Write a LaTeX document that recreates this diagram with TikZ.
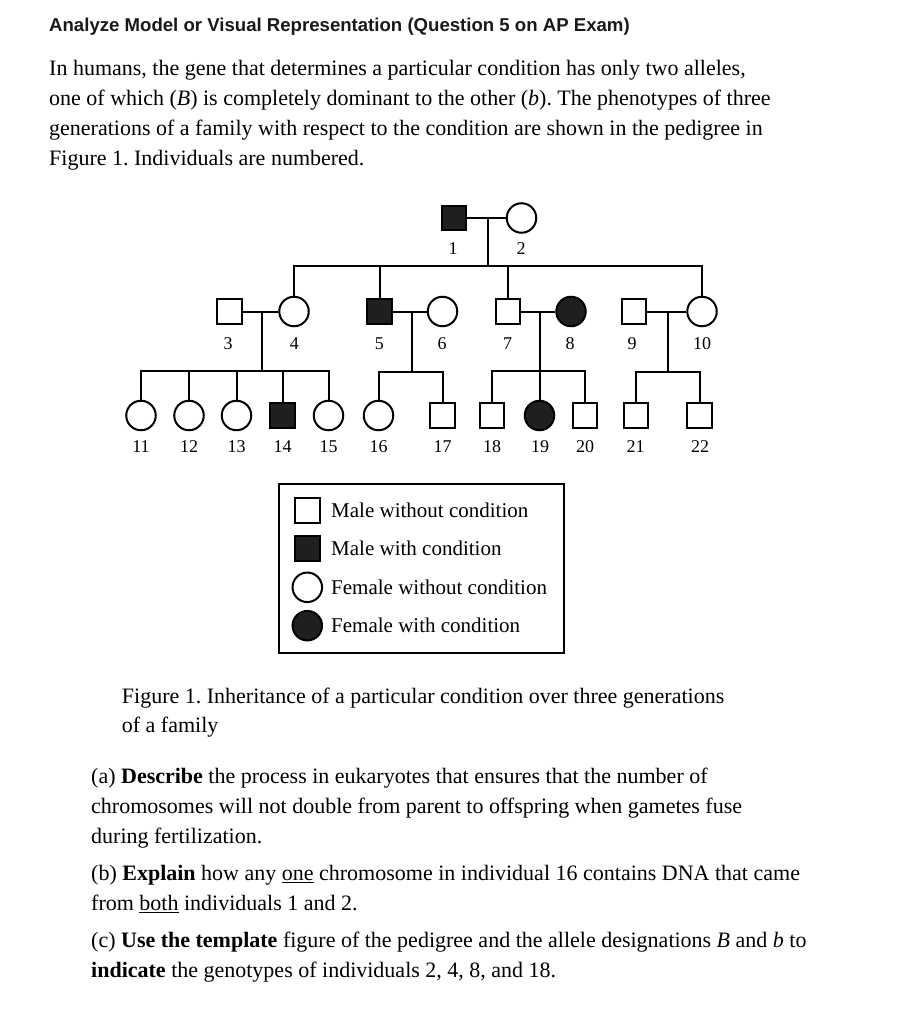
\documentclass[tikz,border=0pt]{standalone}
\usepackage{fontspec}
\setmainfont{Liberation Serif}
\setsansfont{Liberation Sans}
\usetikzlibrary{positioning}
\frenchspacing
\tikzset{
	male/.style = {shape=rectangle, draw, line width=2pt, minimum size=24.5pt, inner sep=0pt, fill=white},
	malec/.style = {male, fill=black!88},
	female/.style = {shape=circle, draw, line width=2pt, minimum size=29.5pt, inner sep=0pt, fill=white},
	femalec/.style = {female, fill=black!88},
	num/.style = {inner sep=0pt, font=\fontsize{18}{20}\selectfont},
	line/.style = {line width=2pt},
	keytext/.style = {anchor=west, inner sep=0pt, font=\fontsize{21}{24}\selectfont},
	para/.style = {anchor=north west, inner sep=0pt, align=left, font=\fontsize{22}{30}\selectfont},
}

\begin{document}
\begin{tikzpicture}[x=1pt, y=-1pt]
		\fill[white] (0,0) rectangle (916,1024);
		\useasboundingbox (0,0) rectangle (916,1024);

		\node[anchor=base west, inner sep=0pt, text=black!90, font=\sffamily\bfseries\fontsize{18.6}{22}\selectfont] (title) at (49,31.7) {Analyze Model or Visual Representation (Question 5 on AP Exam)};
		\node[para] (intro) at (49,60) {In humans, the gene that determines a particular condition has only two alleles,\\one of which (\textit{B}) is completely dominant to the other (\textit{b}). The phenotypes of three\\generations of a family with respect to the condition are shown in the pedigree in\\Figure 1. Individuals are numbered.};

		% generation I
		\node[malec] (p1) at (454,218) {};
		\node[female] (p2) at (521.5,218) {};
		\node[num] (n1) at (453,249) {1};
		\node[num] (n2) at (521,249) {2};

		% generation II
		\node[male] (p3) at (229.5,311.5) {};
		\node[female] (p4) at (294,311.5) {};
		\node[malec] (p5) at (379.5,311.5) {};
		\node[female] (p6) at (442.5,311.5) {};
		\node[male] (p7) at (508,311.5) {};
		\node[femalec] (p8) at (571,311.5) {};
		\node[male] (p9) at (634,311.5) {};
		\node[female] (p10) at (702,311.5) {};
		\node[num] (n3) at (228,343.3) {3};
		\node[num] (n4) at (294.3,343.3) {4};
		\node[num] (n5) at (379.3,343.3) {5};
		\node[num] (n6) at (442,343.3) {6};
		\node[num] (n7) at (507.7,343.3) {7};
		\node[num] (n8) at (570,343.3) {8};
		\node[num] (n9) at (632,343.3) {9};
		\node[num] (n10) at (702,343.3) {10};

		% generation III
		\node[female] (p11) at (141,415.5) {};
		\node[female] (p12) at (189,415.5) {};
		\node[female] (p13) at (236.5,415.5) {};
		\node[malec] (p14) at (282.5,415.5) {};
		\node[female] (p15) at (328.5,415.5) {};
		\node[female] (p16) at (378.5,415.5) {};
		\node[male] (p17) at (442.5,415.5) {};
		\node[male] (p18) at (492,415.5) {};
		\node[femalec] (p19) at (539.5,415.5) {};
		\node[male] (p20) at (585,415.5) {};
		\node[male] (p21) at (636,415.5) {};
		\node[male] (p22) at (699.5,415.5) {};
		\node[num] (n11) at (141,446.7) {11};
		\node[num] (n12) at (189,446.7) {12};
		\node[num] (n13) at (236.5,446.7) {13};
		\node[num] (n14) at (282.5,446.7) {14};
		\node[num] (n15) at (328.5,446.7) {15};
		\node[num] (n16) at (378.5,446.7) {16};
		\node[num] (n17) at (442.5,446.7) {17};
		\node[num] (n18) at (492,446.7) {18};
		\node[num] (n19) at (540,446.7) {19};
		\node[num] (n20) at (585,446.7) {20};
		\node[num] (n21) at (635.5,446.7) {21};
		\node[num] (n22) at (700,446.7) {22};

		% matings and sibships
		\coordinate (m12) at (488,218);
		\coordinate (s12) at (488,266);
		\coordinate (m34) at (261.5,311.5);
		\coordinate (s34) at (261.5,371);
		\coordinate (m56) at (411.5,311.5);
		\coordinate (s56) at (411.5,371.5);
		\coordinate (m78) at (539.5,311.5);
		\coordinate (s78) at (539.5,371);
		\coordinate (m910) at (668,311.5);
		\coordinate (s910) at (668,371.5);

		\draw[line] (p1) -- (p2);
		\draw[line] (m12) -- (s12);
		\draw[line] (p4.north) |- (s12) -| (p10.north);
		\draw[line] (p5.north) |- (s12);
		\draw[line] (p7.north) |- (s12);

		\draw[line] (p3) -- (p4);
		\draw[line] (m34) -- (s34);
		\draw[line] (p11.north) |- (s34) -| (p15.north);
		\draw[line] (p12.north) |- (s34);
		\draw[line] (p13.north) |- (s34);
		\draw[line] (p14.north) |- (s34);

		\draw[line] (p5) -- (p6);
		\draw[line] (m56) -- (s56);
		\draw[line] (p16.north) |- (s56) -| (p17.north);

		\draw[line] (p7) -- (p8);
		\draw[line] (m78) -- (s78);
		\draw[line] (p18.north) |- (s78) -| (p20.north);
		\draw[line] (p19.north) -- (s78);

		\draw[line] (p9) -- (p10);
		\draw[line] (m910) -- (s910);
		\draw[line] (p21.north) |- (s910) -| (p22.north);

		% key
		\node[draw, line width=2pt, minimum width=284.7pt, minimum height=169pt, inner sep=0pt] (key) at (421.65,568.8) {};
		\node[male] (k1) at (307.3,510.3) {};
		\node[malec] (k2) at (307.3,548.3) {};
		\node[female] (k3) at (307.3,587.3) {};
		\node[femalec] (k4) at (307.3,625.7) {};
		\node[keytext] (t1) at (331,510.3) {Male without condition};
		\node[keytext] (t2) at (331,548.3) {Male with condition};
		\node[keytext] (t3) at (331,587.3) {Female without condition};
		\node[keytext] (t4) at (331,625.7) {Female with condition};

		\node[para, font=\fontsize{22}{29}\selectfont] (caption) at (121.7,688.3) {Figure 1. Inheritance of a particular condition over three generations\\of a family};

		\node[para] (qa) at (91,767.5) {(a) \textbf{Describe} the process in eukaryotes that ensures that the number of\\chromosomes will not double from parent to offspring when gametes fuse\\during fertilization.};
		\node[para] (qb) at (91,865) {(b) \textbf{Explain} how any \underline{one} chromosome in individual 16 contains DNA that came\\from \underline{both} individuals 1 and 2.};
		\node[para] (qc) at (91,931.5) {(c) \textbf{Use the template} figure of the pedigree and the allele designations \textit{B} and \textit{b} to\\\textbf{indicate} the genotypes of individuals 2, 4, 8, and 18.};
	\end{tikzpicture}
\end{document}
